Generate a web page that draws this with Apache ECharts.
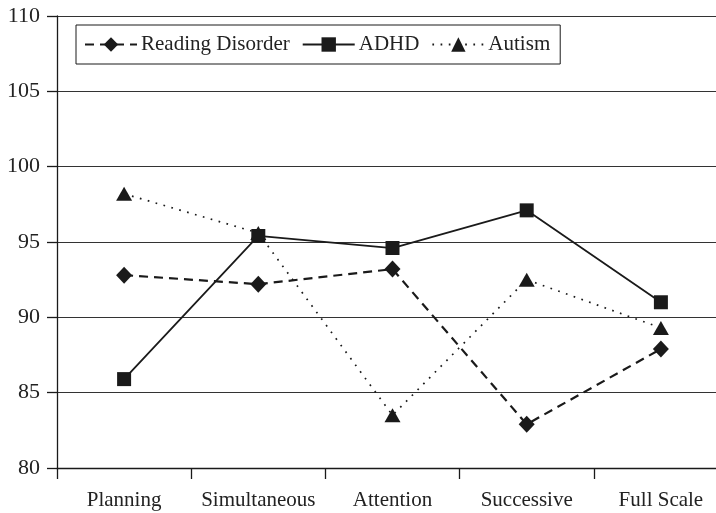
<!DOCTYPE html>
<html>
<head>
<meta charset="utf-8">
<script src="https://cdn.jsdelivr.net/npm/echarts@6/dist/echarts.min.js"></script>
<style>
html,body{margin:0;padding:0;background:#fff;overflow:hidden;width:716px;height:513px;}
#chart{width:730px;height:513px;}
</style>
</head>
<body>
<div id="chart"></div>
<script>
var categories = ['Planning', 'Simultaneous', 'Attention', 'Successive', 'Full Scale'];
var readingDisorder = [92.8, 92.2, 93.2, 82.9, 87.9];
var adhd = [85.9, 95.4, 94.6, 97.1, 91.0];
var autism = [98.2, 95.6, 83.5, 92.5, 89.3];
var yTicks = { min: 80, max: 110, interval: 5 };

var FONT = '"Liberation Serif", "DejaVu Serif", serif';
var INK = '#1a1a1a';

var chart = echarts.init(document.getElementById('chart'), null, { renderer: 'canvas' });
chart.setOption({
  animation: false,
  backgroundColor: '#fff',
  grid: { left: 57, right: 2, top: 16, height: 452, containLabel: false },
  legend: {
    left: 76, top: 25,
    orient: 'horizontal',
    borderColor: INK, borderWidth: 1,
    padding: [9, 10, 9, 8],
    itemGap: 12,
    itemWidth: 52, itemHeight: 18,
    textStyle: { fontFamily: FONT, fontSize: 21, color: '#222', padding: [0, 0, 0, -1] },
    data: ['Reading Disorder', 'ADHD', 'Autism']
  },
  xAxis: {
    type: 'category',
    data: categories,
    boundaryGap: true,
    axisLine: { lineStyle: { color: INK, width: 1.3 } },
    axisTick: { show: true, length: 11, interval: 0, lineStyle: { color: INK, width: 1.3 } },
    axisLabel: { fontFamily: FONT, fontSize: 21, color: '#222', margin: 22, interval: 0 },
    splitLine: { show: false }
  },
  yAxis: {
    type: 'value',
    min: yTicks.min, max: yTicks.max, interval: yTicks.interval,
    axisLine: { show: true, lineStyle: { color: INK, width: 1.3 } },
    axisTick: { show: true, length: 10, lineStyle: { color: INK, width: 1.3 } },
    axisLabel: { fontFamily: FONT, fontSize: 22, color: '#222', margin: 17 },
    splitLine: { show: true, lineStyle: { color: '#333', width: 1.2 } }
  },
  series: [
    {
      name: 'Reading Disorder', type: 'line', data: readingDisorder,
      symbol: 'diamond', symbolSize: [16, 17],
      itemStyle: { color: INK },
      lineStyle: { color: INK, width: 2.2, type: [9, 6] },
      z: 3
    },
    {
      name: 'ADHD', type: 'line', data: adhd,
      symbol: 'rect', symbolSize: 14,
      itemStyle: { color: INK },
      lineStyle: { color: INK, width: 1.8, type: 'solid' },
      z: 4
    },
    {
      name: 'Autism', type: 'line', data: autism,
      symbol: 'triangle', symbolSize: [16, 14],
      itemStyle: { color: INK },
      lineStyle: { color: INK, width: 1.7, type: [1.7, 6.5] },
      z: 2
    }
  ]
});
</script>
</body>
</html>
